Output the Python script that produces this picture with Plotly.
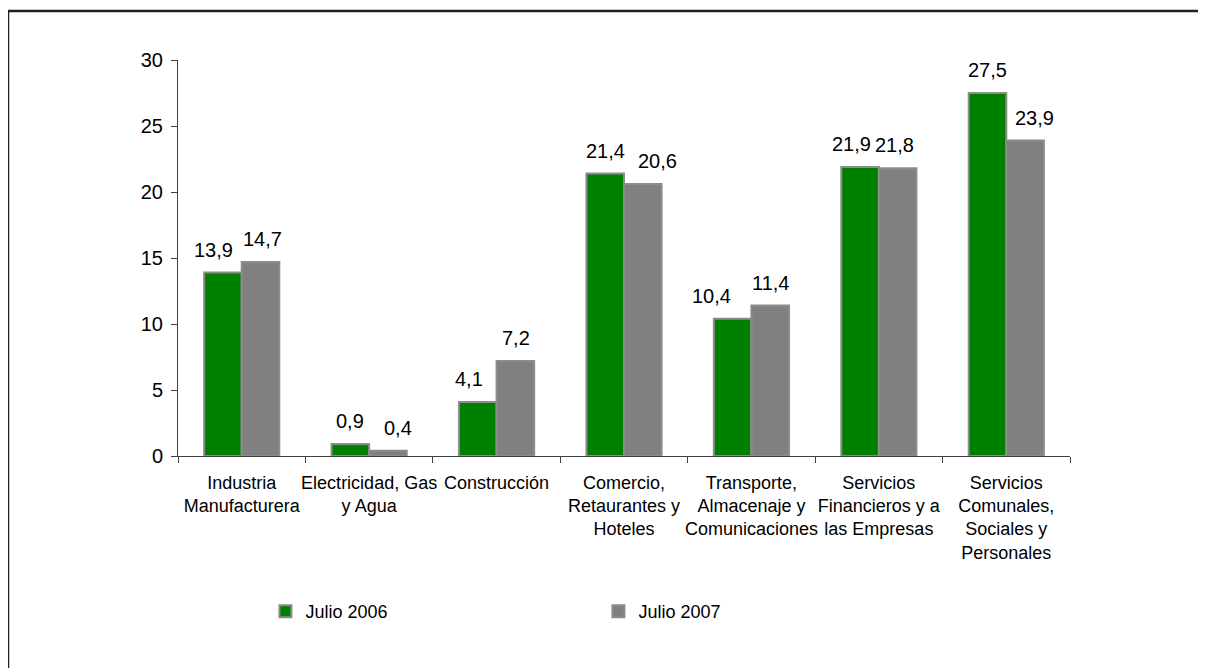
import plotly.graph_objects as go

categorias = [
    "Industria<br>Manufacturera",
    "Electricidad, Gas<br>y Agua",
    "Construcción",
    "Comercio,<br>Retaurantes y<br>Hoteles",
    "Transporte,<br>Almacenaje y<br>Comunicaciones",
    "Servicios<br>Financieros y a<br>las Empresas",
    "Servicios<br>Comunales,<br>Sociales y<br>Personales",
]
julio_2006 = [13.9, 0.9, 4.1, 21.4, 10.4, 21.9, 27.5]
julio_2007 = [14.7, 0.4, 7.2, 20.6, 11.4, 21.8, 23.9]

# pequeños ajustes horizontales de las etiquetas (px), como en el original
ajuste_2006 = [-9, 0, -9, 0, -21, -8, 0]
ajuste_2007 = [2, 10, 0, 14, 0, -3, 9]

FONT = "Arial"
series = [("Julio 2006", julio_2006, "#008000", -19, ajuste_2006),
          ("Julio 2007", julio_2007, "#808080", 19, ajuste_2007)]

fig = go.Figure()
for nombre, valores, color, dx, ajustes in series:
    fig.add_trace(go.Bar(
        name=nombre, x=categorias, y=valores,
        marker=dict(color=color, line=dict(color="#8c8c8c", width=2)),
        hoverinfo="x+y",
    ))
    # etiquetas de valor sobre cada barra
    for cat, v, aj in zip(categorias, valores, ajustes):
        fig.add_annotation(x=cat, y=v, text=f"{v:.1f}".replace(".", ","),
                           showarrow=False, xshift=dx + aj, yshift=10, yanchor="bottom",
                           font=dict(size=20, color="black", family=FONT))

# marco exterior
fig.add_shape(type="rect", xref="paper", yref="paper",
              x0=-0.1906, x1=1.16, y0=-0.56, y1=1.124,
              line=dict(color="#202020", width=2.5), layer="below")

fig.update_layout(
    width=1206, height=668,
    margin=dict(l=170, r=144, t=52, b=220),
    paper_bgcolor="white", plot_bgcolor="white",
    barmode="group", bargap=0.41, bargroupgap=0,
    font=dict(family=FONT, color="black"),
    showlegend=True,
    legend=dict(orientation="h", x=0.098, y=-0.393, xanchor="left", yanchor="middle",
                font=dict(size=18), entrywidth=288, entrywidthmode="pixels",
                itemclick=False),
    xaxis=dict(tickson="boundaries", ticks="outside", ticklen=6, tickcolor="#404040",
               showline=True, linecolor="#404040", linewidth=1, tickangle=0,
               tickfont=dict(size=18), showgrid=False, ticklabelstandoff=10),
    yaxis=dict(range=[0, 30], dtick=5, ticks="outside", ticklen=6, tickcolor="#404040",
               showline=True, linecolor="#404040", linewidth=1, showgrid=False,
               zeroline=False, tickfont=dict(size=20), ticklabelstandoff=4),
)

fig.write_html("out.html")
